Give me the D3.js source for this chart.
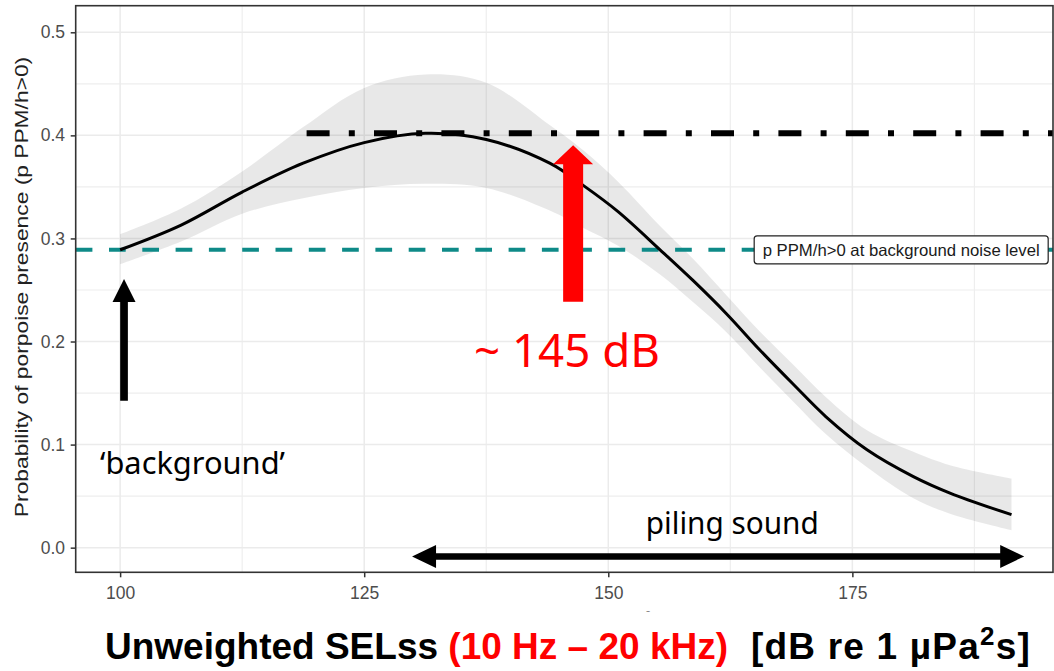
<!DOCTYPE html>
<html>
<head>
<meta charset="utf-8">
<script src="https://cdn.jsdelivr.net/npm/d3@7"></script>
<style>
  html, body { margin: 0; padding: 0; background: #fff; }
  svg { display: block; }
  text { white-space: pre; }
</style>
</head>
<body>
<svg id="chart" width="1054" height="671"></svg>
<script>
// Smoothed probability of porpoise presence vs. unweighted single-strike SEL
const selValues = [100, 106.25, 112.5, 118.75, 125, 131.25, 137.5, 144, 147.5, 151, 155.3, 158.7, 162.1, 165.5, 168.9, 172.3, 176.5, 181.25, 185, 191.3];
const pFit      = [0.289, 0.313, 0.345, 0.373, 0.393, 0.402, 0.396, 0.373, 0.351, 0.326, 0.289, 0.259, 0.227, 0.192, 0.159, 0.127, 0.095, 0.069, 0.053, 0.032];
const pLower    = [0.275, 0.297, 0.324, 0.339, 0.349, 0.353, 0.349, 0.327, 0.310, 0.293, 0.265, 0.238, 0.209, 0.175, 0.142, 0.110, 0.078, 0.048, 0.033, 0.017];
const pUpper    = [0.304, 0.329, 0.365, 0.408, 0.446, 0.459, 0.451, 0.410, 0.385, 0.355, 0.312, 0.280, 0.245, 0.210, 0.178, 0.146, 0.114, 0.093, 0.080, 0.067];

const xTicks = [100, 125, 150, 175];
const xMinor = [112.5, 137.5, 162.5, 187.5];
const yTicks = [0, 0.1, 0.2, 0.3, 0.4, 0.5];
const yMinor = [0.05, 0.15, 0.25, 0.35, 0.45];

const backgroundLevel = 0.289;   // p PPM/h>0 at background noise level
const peakLevel = 0.402;         // maximum of the fitted curve
const labelSEL = 180;            // position of the background-level label
const thresholdSEL = 146.4;      // red arrow (~145 dB)
const backgroundSEL = 100.4;     // black arrow at background
const pilingRange = [129.9, 192.6];
const peakLineStart = 119.1;

const data = selValues.map((s, i) => ({ s, fit: pFit[i], lo: pLower[i], hi: pUpper[i] }));

const svg = d3.select("#chart");
const panel = { left: 75.7, right: 1053, top: 5.7, bottom: 572.3 };

const x = d3.scaleLinear().domain([95.45, 195.55]).range([panel.left, panel.right]);
const y = d3.scaleLinear().domain([-0.0239, 0.5258]).range([panel.bottom, panel.top]);

// grid
const grid = svg.append("g");
grid.selectAll(".xminor").data(xMinor).join("line")
  .attr("x1", d => x(d)).attr("x2", d => x(d))
  .attr("y1", panel.top).attr("y2", panel.bottom)
  .attr("stroke", "#EEEEEE").attr("stroke-width", 1.2);
grid.selectAll(".yminor").data(yMinor).join("line")
  .attr("x1", panel.left).attr("x2", panel.right)
  .attr("y1", d => y(d)).attr("y2", d => y(d))
  .attr("stroke", "#EEEEEE").attr("stroke-width", 1.2);
grid.selectAll(".xmajor").data(xTicks).join("line")
  .attr("x1", d => x(d)).attr("x2", d => x(d))
  .attr("y1", panel.top).attr("y2", panel.bottom)
  .attr("stroke", "#EBEBEB").attr("stroke-width", 1.5);
grid.selectAll(".ymajor").data(yTicks).join("line")
  .attr("x1", panel.left).attr("x2", panel.right)
  .attr("y1", d => y(d)).attr("y2", d => y(d))
  .attr("stroke", "#EBEBEB").attr("stroke-width", 1.5);

// confidence band
svg.append("path").datum(data)
  .attr("fill", "#000").attr("fill-opacity", 0.09)
  .attr("d", d3.area().x(d => x(d.s)).y0(d => y(d.lo)).y1(d => y(d.hi)).curve(d3.curveCatmullRom));

// background level (teal dashed)
svg.append("line")
  .attr("x1", panel.left).attr("x2", panel.right)
  .attr("y1", y(backgroundLevel)).attr("y2", y(backgroundLevel))
  .attr("stroke", "#0E8A88").attr("stroke-width", 4)
  .attr("stroke-dasharray", "16.7,16.6");

// peak level (dash-dot)
svg.append("line")
  .attr("x1", x(peakLineStart)).attr("x2", panel.right)
  .attr("y1", y(peakLevel)).attr("y2", y(peakLevel))
  .attr("stroke", "#000").attr("stroke-width", 6)
  .attr("stroke-dasharray", "23,19.2,6,19.2");

// fitted curve
svg.append("path").datum(data)
  .attr("fill", "none").attr("stroke", "#000").attr("stroke-width", 3)
  .attr("d", d3.line().x(d => x(d.s)).y(d => y(d.fit)).curve(d3.curveCatmullRom));

// label for background level
const lab = svg.append("g");
lab.append("rect")
  .attr("x", x(labelSEL) - 147).attr("y", y(backgroundLevel) - 14)
  .attr("width", 294).attr("height", 28).attr("rx", 3)
  .attr("fill", "#fff").attr("stroke", "#222").attr("stroke-width", 1.2);
lab.append("text")
  .attr("x", x(labelSEL)).attr("y", y(backgroundLevel))
  .attr("text-anchor", "middle").attr("dominant-baseline", "central")
  .attr("font-family", "Liberation Sans, Arial, sans-serif").attr("font-size", 16.5)
  .attr("fill", "#1a1a1a")
  .attr("textLength", 277).attr("lengthAdjust", "spacingAndGlyphs")
  .text("p PPM/h>0 at background noise level");

// panel border
svg.append("rect")
  .attr("x", panel.left).attr("y", panel.top)
  .attr("width", panel.right - panel.left).attr("height", panel.bottom - panel.top)
  .attr("fill", "none").attr("stroke", "#333").attr("stroke-width", 1.6);

// axes
const yAxis = svg.append("g").attr("transform", `translate(${panel.left},0)`)
  .call(d3.axisLeft(y).tickValues(yTicks).tickFormat(d3.format(".1f")).tickSize(5).tickPadding(5.7));
const xAxis = svg.append("g").attr("transform", `translate(0,${panel.bottom})`)
  .call(d3.axisBottom(x).tickValues(xTicks).tickFormat(d3.format("d")).tickSize(5).tickPadding(9.5));
[yAxis, xAxis].forEach(g => {
  g.select(".domain").remove();
  g.selectAll(".tick line").attr("stroke", "#333").attr("stroke-width", 1.5);
  g.selectAll(".tick text").attr("fill", "#4D4D4D")
    .attr("font-family", "Liberation Sans, Arial, sans-serif").attr("font-size", 17.5);
});

// y axis title (stretched along its length)
svg.append("text")
  .attr("transform", "translate(28,287) rotate(-90) scale(1.2,1)")
  .attr("text-anchor", "middle")
  .attr("font-family", "Liberation Sans, Arial, sans-serif").attr("font-size", 19)
  .attr("fill", "#222")
  .text("Probability of porpoise presence (p PPM/h>0)");

// remnant of the original axis title superscript
svg.append("text").attr("x", 648).attr("y", 619).attr("text-anchor", "middle")
  .attr("font-family", "Liberation Sans, Arial, sans-serif").attr("font-size", 10)
  .attr("fill", "#777").text("2");
svg.append("rect").attr("x", 640).attr("y", 612).attr("width", 16).attr("height", 10).attr("fill", "#fff");

// arrows
function upArrow(cx, yTail, yTip, sw, hw, hl) {
  return `M${cx - sw / 2},${yTail} L${cx - sw / 2},${yTip + hl} L${cx - hw / 2},${yTip + hl} L${cx},${yTip} ` +
         `L${cx + hw / 2},${yTip + hl} L${cx + sw / 2},${yTip + hl} L${cx + sw / 2},${yTail} Z`;
}
function doubleArrow(x1, x2, cy, sw, hw, hl) {
  return `M${x1},${cy} L${x1 + hl},${cy - hw / 2} L${x1 + hl},${cy - sw / 2} L${x2 - hl},${cy - sw / 2} ` +
         `L${x2 - hl},${cy - hw / 2} L${x2},${cy} L${x2 - hl},${cy + hw / 2} L${x2 - hl},${cy + sw / 2} ` +
         `L${x1 + hl},${cy + sw / 2} L${x1 + hl},${cy + hw / 2} Z`;
}
svg.append("path").attr("fill", "#FF0000")
  .attr("d", upArrow(x(thresholdSEL), y(0.2386), y(0.3905), 20, 40, 19));
svg.append("path").attr("fill", "#000")
  .attr("d", upArrow(x(backgroundSEL), y(0.1426), y(0.2607), 7.7, 23, 23));
svg.append("path").attr("fill", "#000")
  .attr("d", doubleArrow(x(pilingRange[0]), x(pilingRange[1]), y(-0.0085), 6.5, 23, 24));

// annotation texts
const noto = "Noto Sans, Open Sans, sans-serif";
svg.append("text").attr("x", 474).attr("y", 366.7)
  .attr("font-family", noto).attr("font-size", 46).attr("fill", "#FF0000")
  .attr("textLength", 186).attr("lengthAdjust", "spacingAndGlyphs")
  .text("~ 145 dB");
svg.append("text").attr("x", 100).attr("y", 474)
  .attr("font-family", noto).attr("font-size", 30).attr("fill", "#000")
  .attr("textLength", 185).attr("lengthAdjust", "spacingAndGlyphs")
  .text("\u2018background\u2019");
svg.append("text").attr("x", 645.8).attr("y", 534)
  .attr("font-family", noto).attr("font-size", 30).attr("fill", "#000")
  .attr("textLength", 173).attr("lengthAdjust", "spacingAndGlyphs")
  .text("piling sound");

// x axis title
const title = svg.append("text").attr("x", 105).attr("y", 659.3)
  .attr("font-family", "Liberation Sans, Arial, sans-serif").attr("font-weight", "bold")
  .attr("font-size", 37).attr("fill", "#000");
title.append("tspan").text("Unweighted SELss ");
title.append("tspan").attr("fill", "#FF0000").text("(10 Hz \u2013 20 kHz)");
title.append("tspan").attr("letter-spacing", 1.2).text("  [dB re 1 \u00B5Pa");
title.append("tspan").attr("font-size", 26).attr("dy", -14).attr("letter-spacing", 1.2).text("2");
title.append("tspan").attr("dy", 14).attr("letter-spacing", 1.2).text("s]");
</script>
</body>
</html>
